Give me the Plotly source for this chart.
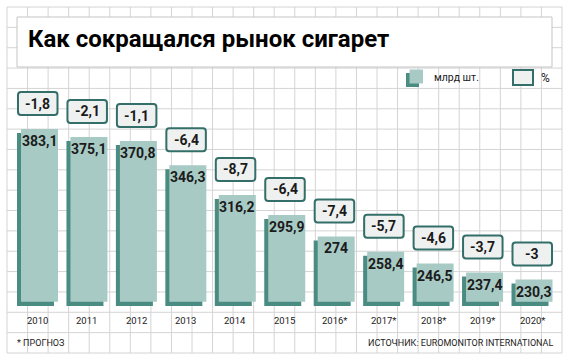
import plotly.graph_objects as go

years = ["2010", "2011", "2012", "2013", "2014", "2015", "2016*", "2017*", "2018*", "2019*", "2020*"]
volume = [383.1, 375.1, 370.8, 346.3, 316.2, 295.9, 274, 258.4, 246.5, 237.4, 230.3]
change = [-1.8, -2.1, -1.1, -6.4, -8.7, -6.4, -7.4, -5.7, -4.6, -3.7, -3]

W, H = 570, 363
PX_X = 49.45          # pixels per category
X0_PX = 39.5          # pixel of first category centre
PPU = 0.985           # pixels per unit (y)
Y_REF, Y_REF_PX = 383.1, 129.0
def yv(p):
    return Y_REF - (p - Y_REF_PX) / PPU

BASE = yv(301.7)
DARK_BASE = yv(306)
dx = 4 / PX_X
dy = 4 / PPU
BW = 37 / PX_X

LIGHT = "#a8cac5"
DARK = "#4a8b82"
BORDER = "#336e69"
BOXFILL = "#eef1f0"
GRID = "#d4d4d4"
TXT = "#1b1b1b"
FONT = "Roboto"
SMALL = "Roboto"

def fmt(v):
    return f"{v:g}".replace(".", ",")

xs = list(range(len(years)))
fig = go.Figure()
fig.add_trace(go.Bar(
    x=xs, y=[v - dy - DARK_BASE for v in volume], base=DARK_BASE,
    width=BW, offset=-BW / 2 - dx, marker=dict(color=DARK, line=dict(width=0)),
    hoverinfo="skip", showlegend=False))
fig.add_trace(go.Bar(
    x=xs, y=[v - BASE for v in volume], base=BASE,
    width=BW, offset=-BW / 2, marker=dict(color=LIGHT, line=dict(width=0)),
    hoverinfo="skip", showlegend=False))

shapes = []
# background grid (figure pixels -> paper)
nv, nh = 27, 17
for k in range(nv + 1):
    px = 7 + k * (555 / nv)
    shapes.append(dict(type="line", xref="paper", yref="paper", x0=px / W, x1=px / W,
                       y0=1 - 7 / H, y1=1 - 353 / H, line=dict(color=GRID, width=1), layer="below"))
for k in range(nh + 1):
    py = 7 + k * (346 / nh)
    shapes.append(dict(type="line", xref="paper", yref="paper", x0=7 / W, x1=562 / W,
                       y0=1 - py / H, y1=1 - py / H, line=dict(color=GRID, width=1), layer="below"))
# title box
shapes.append(dict(type="rect", xref="paper", yref="paper", x0=17 / W, x1=552 / W,
                   y0=1 - 17 / H, y1=1 - 67 / H, fillcolor="white",
                   line=dict(color="#c4c4c4", width=1), layer="below"))

def rounded(x0, y0, x1, y1, r=3):
    return (f"M{x0 + r},{y0} L{x1 - r},{y0} Q{x1},{y0} {x1},{y0 + r} "
            f"L{x1},{y1 - r} Q{x1},{y1} {x1 - r},{y1} L{x0 + r},{y1} "
            f"Q{x0},{y1} {x0},{y1 - r} L{x0},{y0 + r} Q{x0},{y0} {x0 + r},{y0} Z")

annotations = []
for i, (y, v, c) in enumerate(zip(years, volume, change)):
    shapes.append(dict(type="path", xref="x", yref="y", xsizemode="pixel", ysizemode="pixel",
                       xanchor=i, yanchor=v, path=rounded(-21.5, 14, 18, 37),
                       fillcolor=BOXFILL, line=dict(color=BORDER, width=2), layer="above"))
    annotations.append(dict(x=i, y=v, xref="x", yref="y", text=f"<b>{fmt(c)}</b>",
                            showarrow=False, xshift=-1.75, yshift=25.5, yanchor="middle",
                            font=dict(family=FONT, size=14, color=TXT)))
    annotations.append(dict(x=i, y=v, xref="x", yref="y", text=f"<b>{fmt(v)}</b>",
                            showarrow=False, yshift=-2, yanchor="top",
                            font=dict(family=FONT, size=14, color=TXT)))
    annotations.append(dict(x=i, y=1 - 320 / H, xref="x", yref="paper", text=y,
                            showarrow=False, xshift=-2, yanchor="middle",
                            font=dict(family=SMALL, size=9.5, color=TXT)))

# title
annotations.append(dict(x=26 / W, y=1 - 39 / H, xref="paper", yref="paper", xanchor="left",
                        yanchor="middle", text="<b>Как сокращался рынок сигарет</b>", showarrow=False,
                        font=dict(family=FONT, size=24, color="#000000", weight=900)))
# legend
shapes.append(dict(type="rect", xref="paper", yref="paper", x0=406 / W, x1=419 / W,
                   y0=1 - 73 / H, y1=1 - 87 / H, fillcolor=DARK, line=dict(width=0)))
shapes.append(dict(type="rect", xref="paper", yref="paper", x0=409.5 / W, x1=423 / W,
                   y0=1 - 69.5 / H, y1=1 - 83.5 / H, fillcolor=LIGHT, line=dict(width=0)))
shapes.append(dict(type="rect", xref="paper", yref="paper", x0=513 / W, x1=533 / W,
                   y0=1 - 70 / H, y1=1 - 85 / H, fillcolor=BOXFILL, line=dict(color=BORDER, width=2)))
annotations.append(dict(x=432 / W, y=1 - 78 / H, xref="paper", yref="paper", xanchor="left",
                        yanchor="middle", text="млрд шт.", showarrow=False,
                        font=dict(family=SMALL, size=10.5, color=TXT)))
annotations.append(dict(x=539 / W, y=1 - 78 / H, xref="paper", yref="paper", xanchor="left",
                        yanchor="middle", text="%", showarrow=False,
                        font=dict(family=SMALL, size=12, color=TXT)))
# footer
annotations.append(dict(x=15 / W, y=1 - 343 / H, xref="paper", yref="paper", xanchor="left",
                        yanchor="middle", text="* ПРОГНОЗ", showarrow=False,
                        font=dict(family=SMALL, size=9, color=TXT)))
annotations.append(dict(x=555 / W, y=1 - 343 / H, xref="paper", yref="paper", xanchor="right",
                        yanchor="middle", text="ИСТОЧНИК: EUROMONITOR INTERNATIONAL", showarrow=False,
                        font=dict(family=SMALL, size=9, color=TXT)))

fig.update_layout(
    width=W, height=H, margin=dict(l=0, r=0, t=0, b=0),
    paper_bgcolor="white", plot_bgcolor="rgba(0,0,0,0)",
    barmode="overlay", showlegend=False,
    xaxis=dict(range=[(0 - X0_PX) / PX_X, (W - X0_PX) / PX_X], visible=False, fixedrange=True),
    yaxis=dict(range=[yv(H), yv(0)], visible=False, fixedrange=True),
    shapes=shapes, annotations=annotations,
)
fig.write_html("out.html", config={"displayModeBar": False},
               post_script="document.body.style.margin='0';document.body.style.overflow='hidden';")
